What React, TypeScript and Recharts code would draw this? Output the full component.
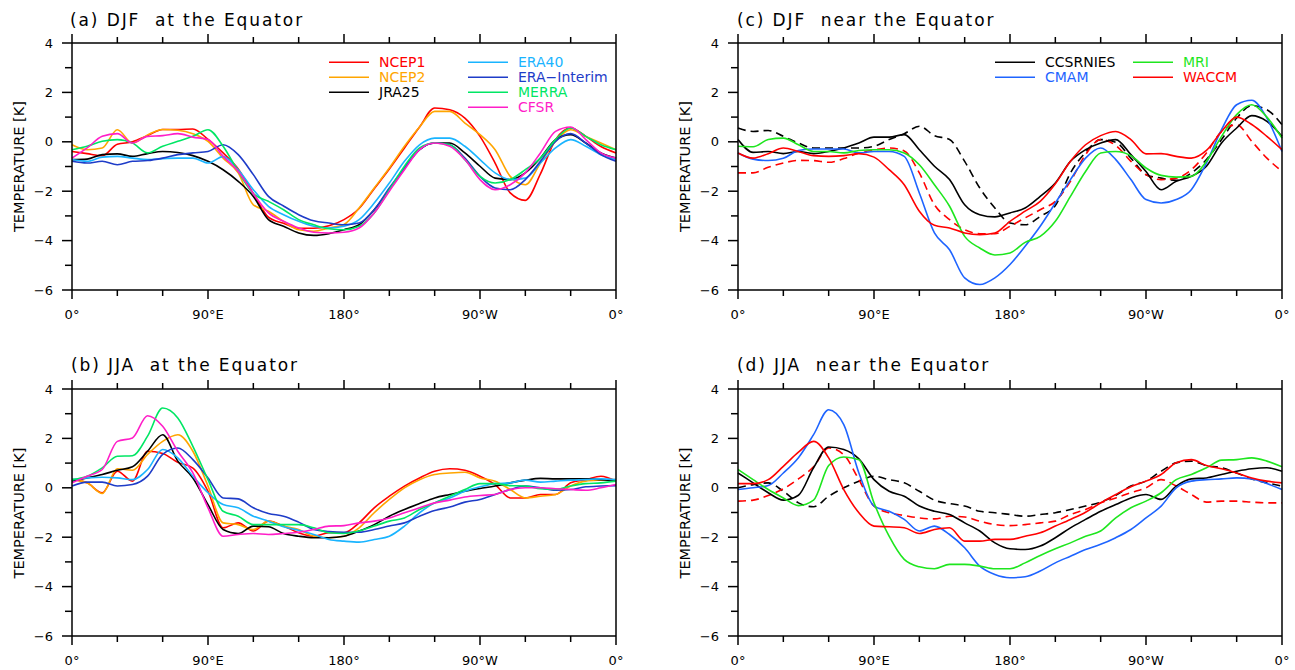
import React from "react";
import { LineChart, Line, XAxis, YAxis } from "recharts";

// ---------- categories / ticks ----------
const LONGITUDES = [0, 10, 20, 30, 40, 50, 60, 70, 80, 90, 100, 110, 120, 130, 140, 150, 160, 170, 180,
  190, 200, 210, 220, 230, 240, 250, 260, 270, 280, 290, 300, 310, 320, 330, 340, 350, 360];
const X_TICKS = [0, 30, 60, 90, 120, 150, 180, 210, 240, 270, 300, 330, 360];
const X_LABELS: Record<number, string> = { 0: "0°", 90: "90°E", 180: "180°", 270: "90°W", 360: "0°" };
const Y_TICKS = [-6, -5, -4, -3, -2, -1, 0, 1, 2, 3, 4];
const Y_LABELS: Record<number, string> = { 4: "4", 2: "2", 0: "0", [-2]: "−2", [-4]: "−4", [-6]: "−6" };

// ---------- (a) DJF at the Equator ----------
const NCEP1_A = [-0.39, -0.48, -0.56, -0.1, 0.0, 0.25, 0.5, 0.5, 0.52, 0.1, -0.45, -1.1, -2.1, -3.05, -3.3, -3.5, -3.5, -3.4, -3.15, -2.7, -1.9, -1.1, -0.25, 0.6, 1.37, 1.3, 0.96, 0.22, -0.86, -2.07, -2.37, -1.3, 0.09, 0.56, 0.22, -0.19, -0.45];
const NCEP2_A = [-0.12, -0.32, -0.25, 0.49, -0.05, 0.28, 0.5, 0.47, 0.33, 0.02, -0.66, -1.26, -2.55, -2.81, -3.22, -3.56, -3.62, -3.49, -3.35, -2.68, -1.87, -1.06, -0.18, 0.6, 1.23, 1.23, 0.76, 0.29, -0.32, -1.4, -1.74, -0.86, 0.02, 0.49, 0.22, -0.05, -0.32];
const JRA25_A = [-0.72, -0.7, -0.52, -0.49, -0.59, -0.48, -0.39, -0.43, -0.56, -0.79, -1.13, -1.6, -2.21, -3.15, -3.42, -3.69, -3.79, -3.72, -3.56, -3.36, -2.75, -1.94, -1.06, -0.32, -0.05, -0.05, -0.45, -0.99, -1.47, -1.53, -1.26, -0.66, 0.09, 0.29, -0.05, -0.45, -0.66];
const ERA40_A = [-0.72, -0.79, -0.62, -0.59, -0.66, -0.72, -0.68, -0.66, -0.66, -0.86, -0.6, -1.13, -1.94, -2.61, -2.95, -3.22, -3.42, -3.49, -3.42, -3.15, -2.48, -1.67, -0.79, -0.12, 0.15, 0.15, -0.18, -0.72, -1.26, -1.53, -1.47, -0.86, -0.25, 0.09, -0.18, -0.52, -0.72];
const ERAI_A = [-0.79, -0.86, -0.79, -0.93, -0.79, -0.76, -0.66, -0.52, -0.45, -0.39, -0.12, -0.52, -1.33, -2.21, -2.6, -2.95, -3.2, -3.29, -3.36, -3.29, -2.75, -1.87, -1.06, -0.32, -0.05, -0.12, -0.66, -1.4, -1.87, -1.94, -1.53, -0.79, 0.02, 0.33, -0.05, -0.52, -0.79];
const MERRA_A = [-0.32, -0.18, 0.02, 0.09, -0.05, -0.45, -0.18, 0.02, 0.22, 0.49, -0.18, -1.2, -2.1, -2.41, -2.75, -3.15, -3.36, -3.52, -3.56, -3.42, -2.88, -1.94, -0.99, -0.25, -0.05, -0.12, -0.72, -1.4, -1.67, -1.53, -1.13, -0.66, 0.09, 0.56, 0.22, -0.12, -0.32];
const CFSR_A = [-0.66, -0.25, 0.22, 0.33, -0.05, 0.22, 0.25, 0.33, 0.19, 0.09, -0.59, -1.2, -2.1, -2.88, -3.22, -3.49, -3.66, -3.69, -3.66, -3.49, -2.88, -2.0, -1.13, -0.32, -0.05, -0.18, -0.72, -1.53, -1.94, -1.74, -1.26, -0.45, 0.42, 0.6, 0.09, -0.45, -0.66];

// ---------- (b) JJA at the Equator ----------
const NCEP1_B = [0.33, 0.2, -0.2, 0.67, 0.27, 1.48, 1.39, 1.03, 0.8, -0.14, -1.62, -1.42, -1.75, -1.35, -1.55, -1.82, -1.96, -1.82, -1.82, -1.42, -0.81, -0.34, 0.07, 0.4, 0.67, 0.77, 0.71, 0.47, 0.13, -0.41, -0.41, -0.27, -0.27, 0.2, 0.33, 0.47, 0.27];
const NCEP2_B = [0.33, 0.2, -0.23, 0.77, 0.71, 1.35, 1.88, 2.15, 1.48, 0.07, -1.42, -1.49, -1.69, -1.35, -1.55, -1.69, -1.96, -2.02, -1.96, -1.62, -1.01, -0.47, 0.0, 0.33, 0.54, 0.6, 0.63, 0.4, 0.27, -0.07, -0.41, -0.34, -0.27, 0.07, 0.27, 0.31, 0.33];
const JRA25_B = [0.27, 0.4, 0.54, 0.71, 0.85, 1.48, 2.15, 1.08, 0.4, -0.68, -1.69, -1.85, -1.55, -1.58, -1.85, -1.96, -2.02, -2.02, -1.96, -1.75, -1.49, -1.15, -0.88, -0.64, -0.41, -0.27, -0.14, -0.03, 0.07, 0.2, 0.31, 0.38, 0.36, 0.36, 0.36, 0.33, 0.29];
const ERA40_B = [0.33, 0.4, 0.43, 0.4, 0.33, 0.74, 1.55, 1.21, 0.47, -0.2, -0.68, -0.81, -1.15, -1.35, -1.58, -1.72, -1.89, -2.09, -2.16, -2.2, -2.09, -1.96, -1.55, -1.01, -0.61, -0.41, -0.14, 0.04, 0.17, 0.2, 0.31, 0.23, 0.27, 0.31, 0.33, 0.36, 0.33];
const ERAI_B = [0.07, 0.23, 0.23, 0.07, 0.13, 0.47, 1.35, 1.61, 1.14, 0.4, -0.41, -0.45, -0.81, -1.04, -1.15, -1.39, -1.69, -1.77, -1.8, -1.8, -1.69, -1.55, -1.42, -1.15, -0.92, -0.78, -0.58, -0.47, -0.27, -0.07, 0.07, 0.0, -0.1, -0.07, 0.04, 0.07, 0.09];
const MERRA_B = [0.33, 0.47, 0.81, 1.28, 1.3, 2.09, 3.23, 2.83, 1.68, 0.33, -0.95, -1.15, -1.49, -1.49, -1.49, -1.49, -1.62, -1.82, -1.85, -1.75, -1.55, -1.35, -1.22, -0.88, -0.61, -0.34, -0.07, 0.17, 0.17, 0.09, 0.07, -0.04, -0.07, 0.07, 0.17, 0.2, 0.27];
const CFSR_B = [0.2, 0.47, 0.74, 1.88, 2.02, 2.92, 2.49, 1.48, 0.6, -0.81, -1.96, -1.89, -1.85, -1.89, -1.85, -1.8, -1.69, -1.55, -1.53, -1.42, -1.35, -1.22, -1.01, -0.81, -0.61, -0.5, -0.37, -0.31, -0.27, -0.07, 0.0, 0.0, -0.04, -0.07, -0.1, 0.0, 0.13];

// ---------- (c) DJF near the Equator ----------
const CCSR_C = [0.09, -0.43, -0.39, -0.48, -0.39, -0.48, -0.39, -0.25, -0.05, 0.19, 0.19, 0.29, -0.32, -0.99, -1.53, -2.55, -2.95, -3.04, -2.88, -2.68, -2.21, -1.67, -0.79, -0.32, -0.05, 0.09, -0.52, -1.2, -1.94, -1.6, -1.4, -0.99, -0.05, 0.56, 1.06, 0.83, 0.22];
const CCSR_DASH_C = [0.56, 0.42, 0.46, 0.22, -0.05, -0.25, -0.25, -0.25, -0.25, -0.18, 0.09, 0.33, 0.63, 0.25, 0.09, -0.79, -1.87, -2.68, -3.29, -3.36, -3.02, -2.58, -1.26, -0.43, 0.09, -0.02, -0.66, -1.33, -1.47, -1.56, -1.26, -0.72, 0.09, 0.96, 1.46, 1.3, 0.69];
const CMAM_C = [-0.45, -0.7, -0.76, -0.67, -0.35, -0.29, -0.29, -0.29, -0.45, -0.39, -0.39, -0.59, -2.07, -3.69, -4.37, -5.51, -5.78, -5.51, -4.97, -4.23, -3.42, -2.48, -1.53, -0.66, -0.25, -0.72, -1.53, -2.34, -2.48, -2.34, -1.94, -0.86, 0.49, 1.5, 1.68, 0.96, -0.39];
const MRI_C = [-0.18, -0.2, 0.09, 0.15, -0.12, -0.39, -0.39, -0.45, -0.35, -0.32, -0.32, -0.45, -0.93, -1.74, -2.61, -3.83, -4.3, -4.58, -4.5, -4.07, -3.83, -3.22, -2.21, -1.2, -0.45, -0.39, -0.56, -1.06, -1.36, -1.43, -1.4, -0.79, 0.22, 1.1, 1.5, 1.0, 0.15];
const WACCM_C = [-0.45, -0.66, -0.48, -0.25, -0.39, -0.56, -0.59, -0.56, -0.48, -0.62, -1.13, -1.74, -2.81, -3.38, -3.49, -3.69, -3.76, -3.69, -3.22, -2.81, -2.41, -1.7, -0.79, -0.12, 0.25, 0.42, 0.09, -0.49, -0.48, -0.59, -0.66, -0.35, 0.42, 1.0, 0.7, 0.22, -0.32];
const WACCM_DASH_C = [-1.26, -1.26, -1.03, -0.86, -0.75, -0.76, -0.83, -0.68, -0.45, -0.33, -0.25, -0.37, -1.26, -2.55, -3.15, -3.56, -3.72, -3.72, -3.42, -3.08, -2.75, -2.41, -1.6, -0.52, 0.09, -0.15, -0.79, -1.33, -1.53, -1.47, -1.13, -0.45, 0.42, 0.69, 0.02, -0.66, -1.2];

// ---------- (d) JJA near the Equator ----------
const CCSR_D = [0.6, 0.2, -0.2, -0.5, -0.3, 0.81, 1.65, 1.55, 1.17, 0.33, -0.14, -0.34, -0.74, -0.95, -1.08, -1.42, -1.75, -2.23, -2.47, -2.5, -2.36, -2.02, -1.62, -1.28, -0.95, -0.68, -0.41, -0.27, -0.47, 0.07, 0.36, 0.4, 0.54, 0.67, 0.77, 0.81, 0.67];
const CCSR_DASH_D = [0.0, 0.13, 0.2, -0.14, -0.61, -0.77, -0.34, 0.0, 0.27, 0.47, 0.33, 0.2, -0.14, -0.5, -0.64, -0.74, -0.95, -1.01, -1.08, -1.15, -1.08, -1.01, -0.88, -0.74, -0.58, -0.3, 0.07, 0.27, 0.67, 1.01, 1.08, 0.9, 0.81, 0.6, 0.36, 0.2, 0.07];
const CMAM_D = [-0.07, 0.0, 0.09, 0.6, 1.22, 2.15, 3.16, 2.56, 0.6, -0.74, -0.95, -1.28, -1.75, -1.55, -1.89, -2.43, -3.17, -3.51, -3.64, -3.6, -3.37, -3.04, -2.77, -2.5, -2.29, -2.02, -1.69, -1.22, -0.74, 0.0, 0.27, 0.33, 0.36, 0.4, 0.36, 0.17, -0.07];
const MRI_D = [0.74, 0.33, -0.07, -0.41, -0.72, -0.5, 0.9, 1.25, 1.14, -0.61, -1.96, -2.9, -3.2, -3.28, -3.1, -3.1, -3.17, -3.28, -3.28, -3.04, -2.74, -2.47, -2.23, -1.96, -1.75, -1.22, -0.81, -0.54, -0.2, 0.33, 0.54, 0.81, 1.12, 1.14, 1.21, 1.08, 0.85];
const WACCM_D = [0.17, 0.17, 0.33, 0.87, 1.44, 1.88, 1.21, -0.07, -1.01, -1.55, -1.58, -1.62, -1.85, -1.69, -1.62, -2.16, -2.16, -2.09, -2.09, -1.96, -1.82, -1.55, -1.28, -0.99, -0.61, -0.27, 0.04, 0.27, 0.54, 1.01, 1.14, 0.9, 0.77, 0.6, 0.4, 0.27, 0.2];
const WACCM_DASH_D = [-0.54, -0.5, -0.31, -0.04, 0.36, 0.85, 1.61, 1.34, 0.33, -0.74, -1.01, -1.12, -1.22, -1.26, -1.15, -1.18, -1.35, -1.49, -1.53, -1.49, -1.42, -1.35, -1.08, -0.88, -0.61, -0.41, -0.2, 0.0, 0.33, 0.07, -0.27, -0.58, -0.54, -0.54, -0.58, -0.61, -0.61];

// ---------- styles ----------
const FONT = "'DejaVu Sans', sans-serif";
const COL = {
  ncep1: "#ff0000",
  ncep2: "#ffa500",
  jra25: "#000000",
  era40: "#19b4ff",
  erai: "#1e3cc8",
  merra: "#00e664",
  cfsr: "#ff1ec8",
  ccsr: "#000000",
  cmam: "#1e64ff",
  mri: "#1ee61e",
  waccm: "#ff0000",
};

type Series = { key: string; color: string; values: number[]; dash?: string };

const SERIES_A: Series[] = [
  { key: "NCEP1", color: COL.ncep1, values: NCEP1_A },
  { key: "NCEP2", color: COL.ncep2, values: NCEP2_A },
  { key: "JRA25", color: COL.jra25, values: JRA25_A },
  { key: "ERA40", color: COL.era40, values: ERA40_A },
  { key: "ERAI", color: COL.erai, values: ERAI_A },
  { key: "MERRA", color: COL.merra, values: MERRA_A },
  { key: "CFSR", color: COL.cfsr, values: CFSR_A },
];
const SERIES_B: Series[] = [
  { key: "NCEP1", color: COL.ncep1, values: NCEP1_B },
  { key: "NCEP2", color: COL.ncep2, values: NCEP2_B },
  { key: "JRA25", color: COL.jra25, values: JRA25_B },
  { key: "ERA40", color: COL.era40, values: ERA40_B },
  { key: "ERAI", color: COL.erai, values: ERAI_B },
  { key: "MERRA", color: COL.merra, values: MERRA_B },
  { key: "CFSR", color: COL.cfsr, values: CFSR_B },
];
const SERIES_C: Series[] = [
  { key: "CCSRd", color: COL.ccsr, values: CCSR_DASH_C, dash: "8 5" },
  { key: "WACCMd", color: COL.waccm, values: WACCM_DASH_C, dash: "8 5" },
  { key: "CCSR", color: COL.ccsr, values: CCSR_C },
  { key: "CMAM", color: COL.cmam, values: CMAM_C },
  { key: "MRI", color: COL.mri, values: MRI_C },
  { key: "WACCM", color: COL.waccm, values: WACCM_C },
];
const SERIES_D: Series[] = [
  { key: "CCSRd", color: COL.ccsr, values: CCSR_DASH_D, dash: "8 5" },
  { key: "WACCMd", color: COL.waccm, values: WACCM_DASH_D, dash: "8 5" },
  { key: "CCSR", color: COL.ccsr, values: CCSR_D },
  { key: "CMAM", color: COL.cmam, values: CMAM_D },
  { key: "MRI", color: COL.mri, values: MRI_D },
  { key: "WACCM", color: COL.waccm, values: WACCM_D },
];

// ---------- custom ticks ----------
const isMajorX = (v: number) => v % 90 === 0;
const isMajorY = (v: number) => Math.abs(v) % 2 === 0;

function BottomTick(props: any) {
  const { x, y, payload } = props;
  const v = payload.value;
  const len = isMajorX(v) ? 9 : 6;
  const label = X_LABELS[v];
  return (
    <g>
      <line x1={x} x2={x} y1={y} y2={y + len} stroke="#000" strokeWidth={1.5} />
      {label ? (
        <text x={x} y={y + 29} textAnchor="middle" fontSize={13} fontFamily={FONT} fill="#000">
          {label}
        </text>
      ) : null}
    </g>
  );
}
function TopTick(props: any) {
  const { x, y, payload } = props;
  const len = isMajorX(payload.value) ? 9 : 6;
  return <line x1={x} x2={x} y1={y} y2={y - len} stroke="#000" strokeWidth={1.5} />;
}
function LeftTick(props: any) {
  const { x, y, payload } = props;
  const v = payload.value;
  const major = isMajorY(v);
  const len = major ? 10 : 7;
  return (
    <g>
      <line x1={x - len} x2={x} y1={y} y2={y} stroke="#000" strokeWidth={1.5} />
      {major ? (
        <text x={x - 19} y={y} dy="0.36em" textAnchor="end" fontSize={13} fontFamily={FONT} fill="#000">
          {Y_LABELS[v]}
        </text>
      ) : null}
    </g>
  );
}
function RightTick(props: any) {
  const { x, y, payload } = props;
  const len = isMajorY(payload.value) ? 10 : 7;
  return <line x1={x} x2={x + len} y1={y} y2={y} stroke="#000" strokeWidth={1.5} />;
}

const AXIS_LINE = { stroke: "#000", strokeWidth: 1.5 };

function Panel({ left, top, height, series }: { left: number; top: number; height: number; series: Series[] }) {
  const data = LONGITUDES.map((lon, i) => {
    const row: Record<string, number> = { lon };
    series.forEach((s) => {
      row[s.key] = s.values[i];
    });
    return row;
  });
  return (
    <div style={{ position: "absolute", left, top }}>
      <LineChart width={640} height={height} data={data} margin={{ top: 33, right: 14, bottom: height - 320, left: 22 }}>
        <XAxis xAxisId="b" dataKey="lon" type="number" domain={[0, 360]} ticks={X_TICKS} interval={0}
          height={30} tickSize={0} tickMargin={0} tickLine={false} axisLine={AXIS_LINE} tick={(p: any) => <BottomTick {...p} />} />
        <XAxis xAxisId="t" orientation="top" dataKey="lon" type="number" domain={[0, 360]} ticks={X_TICKS} interval={0}
          height={10} tickSize={0} tickMargin={0} tickLine={false} axisLine={AXIS_LINE} tick={(p: any) => <TopTick {...p} />} />
        <YAxis yAxisId="l" type="number" domain={[-6, 4]} ticks={Y_TICKS} interval={0} width={50}
          tickSize={0} tickMargin={0} tickLine={false} axisLine={AXIS_LINE} tick={(p: any) => <LeftTick {...p} />} />
        <YAxis yAxisId="r" orientation="right" type="number" domain={[-6, 4]} ticks={Y_TICKS} interval={0} width={10}
          tickSize={0} tickMargin={0} tickLine={false} axisLine={AXIS_LINE} tick={(p: any) => <RightTick {...p} />} />
        {series.map((s) => (
          <Line key={s.key} xAxisId="b" yAxisId="l" dataKey={s.key} type="monotone" stroke={s.color}
            strokeWidth={1.6} strokeDasharray={s.dash} dot={false} activeDot={false} isAnimationActive={false} />
        ))}
      </LineChart>
    </div>
  );
}

// ---------- legends & titles ----------
const LEGEND_A = [
  { name: "NCEP1", color: COL.ncep1, col: 0, row: 0 },
  { name: "NCEP2", color: COL.ncep2, col: 0, row: 1 },
  { name: "JRA25", color: COL.jra25, col: 0, row: 2 },
  { name: "ERA40", color: COL.era40, col: 1, row: 0 },
  { name: "ERA−Interim", color: COL.erai, col: 1, row: 1 },
  { name: "MERRA", color: COL.merra, col: 1, row: 2 },
  { name: "CFSR", color: COL.cfsr, col: 1, row: 3 },
];
const LEGEND_C = [
  { name: "CCSRNIES", color: COL.ccsr, col: 0, row: 0 },
  { name: "CMAM", color: COL.cmam, col: 0, row: 1 },
  { name: "MRI", color: COL.mri, col: 1, row: 0 },
  { name: "WACCM", color: COL.waccm, col: 1, row: 1 },
];
const TITLES = [
  { text: "(a) DJF  at the Equator", x: 70, y: 25.5 },
  { text: "(b) JJA  at the Equator", x: 71, y: 371 },
  { text: "(c) DJF  near the Equator", x: 737, y: 25.5 },
  { text: "(d) JJA  near the Equator", x: 737, y: 371 },
];

function Legend({ items, colX, y0 }: { items: typeof LEGEND_A; colX: number[]; y0: number }) {
  return (
    <g>
      {items.map((it) => {
        const x = colX[it.col];
        const y = y0 + it.row * 15;
        return (
          <g key={it.name}>
            <line x1={x} x2={x + 40} y1={y} y2={y} stroke={it.color} strokeWidth={1.6} />
            <text x={x + 50} y={y} dy="0.36em" fontSize={14} fontFamily={FONT} fill={it.color}>
              {it.name}
            </text>
          </g>
        );
      })}
    </g>
  );
}

export default function App() {
  return (
    <div style={{ position: "absolute", left: 0, top: 0, width: 1295, height: 670, background: "#fff", overflow: "hidden" }}>
      <Panel left={0} top={0} height={330} series={SERIES_A} />
      <Panel left={0} top={346} height={324} series={SERIES_B} />
      <Panel left={666} top={0} height={330} series={SERIES_C} />
      <Panel left={666} top={346} height={324} series={SERIES_D} />
      <svg width={1295} height={670} style={{ position: "absolute", left: 0, top: 0, pointerEvents: "none" }}>
        {TITLES.map((t) => (
          <text key={t.text} x={t.x} y={t.y} fontSize={17} letterSpacing={1.9} fontFamily={FONT} fill="#000"
            style={{ whiteSpace: "pre" }}>
            {t.text}
          </text>
        ))}
        {[
          { x: 18.5, y: 166.6 },
          { x: 18.5, y: 513 },
          { x: 684.5, y: 166.6 },
          { x: 684.5, y: 513 },
        ].map((p, i) => (
          <text key={i} x={p.x} y={p.y} dy="0.36em" textAnchor="middle" fontSize={14.5} fontFamily={FONT} fill="#000"
            transform={`rotate(-90 ${p.x} ${p.y})`}>
            TEMPERATURE [K]
          </text>
        ))}
        <Legend items={LEGEND_A} colX={[329, 468]} y0={62.3} />
        <Legend items={LEGEND_C} colX={[995, 1133]} y0={62.3} />
      </svg>
    </div>
  );
}
